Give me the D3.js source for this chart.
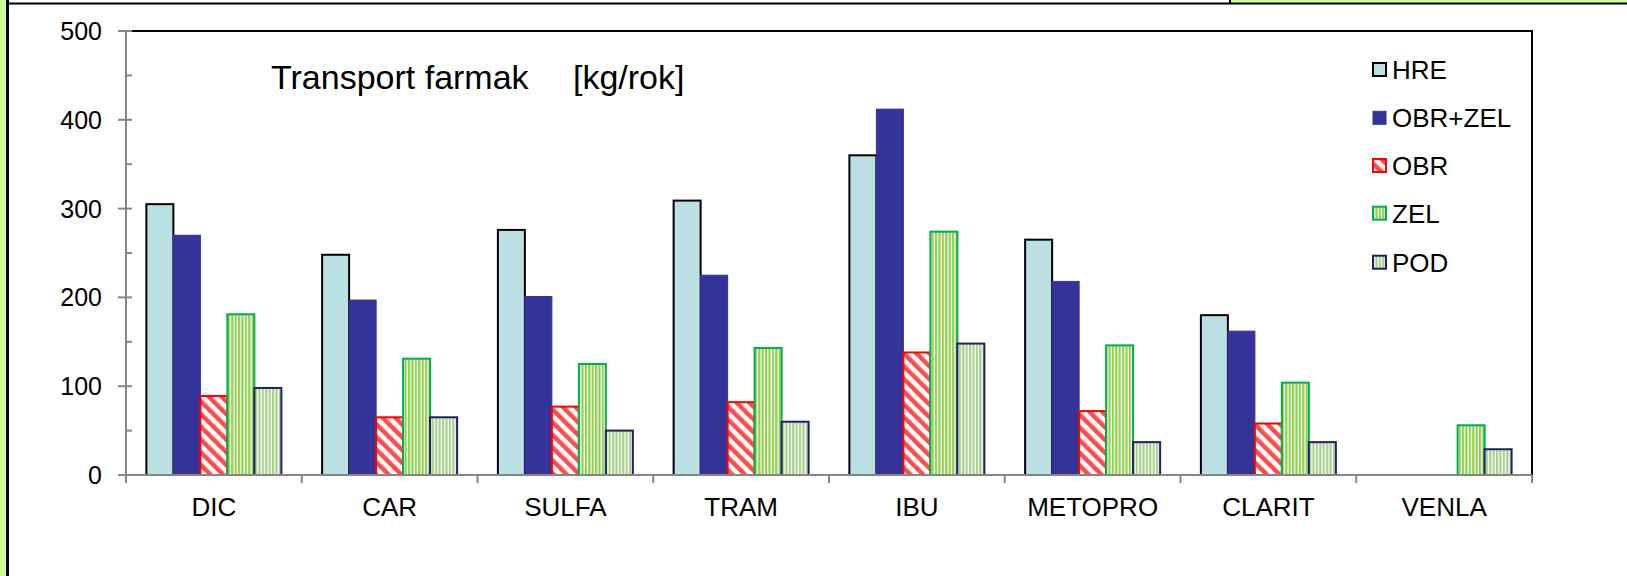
<!DOCTYPE html>
<html>
<head>
<meta charset="utf-8">
<script src="https://cdn.jsdelivr.net/npm/d3@7/dist/d3.min.js"></script>
<style>
  html, body { margin: 0; padding: 0; background: #ffffff; }
  svg { display: block; font-family: "Liberation Sans", Arial, sans-serif; }
</style>
</head>
<body>
<svg id="chart" width="1627" height="576"></svg>
<script>
// Pharmaceutical load per site, kg per year
const categories = ["DIC", "CAR", "SULFA", "TRAM", "IBU", "METOPRO", "CLARIT", "VENLA"];
const seriesNames = ["HRE", "OBR+ZEL", "OBR", "ZEL", "POD"];
const hre    = [305, 248, 276, 309, 360, 265, 180, null];
const obrZel = [270, 197, 201, 225, 412, 218, 162, null];
const obr    = [89, 65, 77, 82, 138, 72, 58, null];
const zel    = [181, 131, 125, 143, 274, 146, 104, 56];
const pod    = [98, 65, 50, 60, 148, 37, 37, 29];
const yTicks = [0, 100, 200, 300, 400, 500];
const yMinorTicks = [50, 150, 250, 350, 450];
const titleMain = "Transport farmak";
const titleUnit = "[kg/rok]";

const seriesValues = [hre, obrZel, obr, zel, pod];

const svg = d3.select("#chart");
const W = 1627, H = 576;

// ----- slide frame -----
svg.append("rect").attr("x", 0).attr("y", 0).attr("width", 7).attr("height", H).attr("fill", "#ccff99");
svg.append("rect").attr("x", 1231).attr("y", 0).attr("width", W - 1231).attr("height", 3).attr("fill", "#ccff99");
svg.append("line").attr("x1", 7.5).attr("x2", 7.5).attr("y1", 0).attr("y2", H).attr("stroke", "#000").attr("stroke-width", 3);
svg.append("line").attr("x1", 6).attr("x2", W).attr("y1", 3.5).attr("y2", 3.5).attr("stroke", "#000").attr("stroke-width", 2);
svg.append("line").attr("x1", 1230).attr("x2", 1230).attr("y1", 0).attr("y2", 4).attr("stroke", "#000").attr("stroke-width", 2);

// ----- fill patterns -----
const defs = svg.append("defs");

const hatch = defs.append("pattern").attr("id", "hatchRed")
  .attr("patternUnits", "userSpaceOnUse").attr("width", 9).attr("height", 9)
  .attr("patternTransform", "rotate(-45)");
hatch.append("rect").attr("width", 9).attr("height", 9).attr("fill", "#ffffff");
hatch.append("rect").attr("width", 4.5).attr("height", 9).attr("fill", "#ff4d4d");

const stripeGreen = defs.append("pattern").attr("id", "stripeGreen")
  .attr("patternUnits", "userSpaceOnUse").attr("width", 3.4).attr("height", 10);
stripeGreen.append("rect").attr("width", 3.4).attr("height", 10).attr("fill", "#ffffff");
stripeGreen.append("rect").attr("width", 2.2).attr("height", 10).attr("fill", "#92d050");

const stripePale = defs.append("pattern").attr("id", "stripePale")
  .attr("patternUnits", "userSpaceOnUse").attr("width", 3.4).attr("height", 10);
stripePale.append("rect").attr("width", 3.4).attr("height", 10).attr("fill", "#ffffff");
stripePale.append("rect").attr("width", 2.2).attr("height", 10).attr("fill", "#a9d18e");

const styles = [
  { fill: "#bbe0e3", stroke: "#000000", sw: 2 },
  { fill: "#333399", stroke: "#333399", sw: 1 },
  { fill: "url(#hatchRed)", stroke: "#ff0000", sw: 2 },
  { fill: "url(#stripeGreen)", stroke: "#00b050", sw: 2 },
  { fill: "url(#stripePale)", stroke: "#1f1f6b", sw: 2 }
];

// ----- scales -----
const plot = { left: 126, right: 1532, top: 31, bottom: 475 };
const x0 = d3.scaleBand().domain(categories).range([plot.left, plot.right]).padding(0);
const x1 = d3.scaleBand().domain(seriesNames).range([0, x0.bandwidth()])
  .paddingInner(0).paddingOuter(0.755);
const y = d3.scaleLinear().domain([0, 500]).range([plot.bottom, plot.top]);

// ----- plot frame -----
svg.append("rect")
  .attr("x", plot.left).attr("y", plot.top)
  .attr("width", plot.right - plot.left).attr("height", plot.bottom - plot.top)
  .attr("fill", "none").attr("stroke", "#000").attr("stroke-width", 2);

// ----- title -----
const title = svg.append("text").attr("x", 271).attr("y", 89)
  .attr("font-size", 34).attr("fill", "#000");
title.append("tspan").text(titleMain);
title.append("tspan").attr("x", 573).text(titleUnit);

// ----- bars -----
seriesNames.forEach((name, si) => {
  const st = styles[si];
  const rows = categories.map((c, ci) => ({ c, v: seriesValues[si][ci] }))
    .filter(d => d.v !== null && d.v > 0);
  svg.append("g").selectAll("rect").data(rows).join("rect")
    .attr("x", d => x0(d.c) + x1(name))
    .attr("y", d => y(d.v))
    .attr("width", x1.bandwidth())
    .attr("height", d => y(0) - y(d.v))
    .attr("fill", st.fill)
    .attr("stroke", st.stroke)
    .attr("stroke-width", st.sw);
});

// ----- axes -----
const axisColor = "#868686";
const yAxis = svg.append("g").attr("transform", `translate(${plot.left},0)`);
yAxis.append("line").attr("x1", 0).attr("x2", 0).attr("y1", plot.top).attr("y2", plot.bottom + 8)
  .attr("stroke", axisColor).attr("stroke-width", 2);
yAxis.selectAll("line.major").data(yTicks).join("line").attr("class", "major")
  .attr("x1", -8).attr("x2", 6).attr("y1", d => y(d)).attr("y2", d => y(d))
  .attr("stroke", axisColor).attr("stroke-width", 2);
yAxis.selectAll("line.minor").data(yMinorTicks).join("line").attr("class", "minor")
  .attr("x1", 0).attr("x2", 6).attr("y1", d => y(d)).attr("y2", d => y(d))
  .attr("stroke", axisColor).attr("stroke-width", 2);
yAxis.selectAll("text").data(yTicks).join("text")
  .attr("x", -24).attr("y", d => y(d)).attr("dy", "0.36em")
  .attr("text-anchor", "end").attr("font-size", 25).attr("fill", "#000")
  .text(d => d);

const xAxis = svg.append("g");
xAxis.append("line").attr("x1", plot.left - 8).attr("x2", plot.right).attr("y1", plot.bottom).attr("y2", plot.bottom)
  .attr("stroke", axisColor).attr("stroke-width", 2);
const boundaries = categories.map(c => x0(c)).concat([plot.right]);
xAxis.selectAll("line.tick").data(boundaries).join("line").attr("class", "tick")
  .attr("x1", d => d).attr("x2", d => d).attr("y1", plot.bottom).attr("y2", plot.bottom + 8)
  .attr("stroke", axisColor).attr("stroke-width", 2);
xAxis.selectAll("text").data(categories).join("text")
  .attr("x", d => x0(d) + x0.bandwidth() / 2).attr("y", 516)
  .attr("text-anchor", "middle").attr("font-size", 26).attr("fill", "#000")
  .text(d => d);

// ----- legend -----
const legend = svg.append("g").attr("transform", "translate(1372,0)");
const legendBase = [79, 127.3, 175, 222.7, 271.7];
seriesNames.forEach((name, i) => {
  const st = styles[i];
  legend.append("rect")
    .attr("x", 1).attr("y", legendBase[i] - 16).attr("width", 13).attr("height", 13)
    .attr("fill", st.fill).attr("stroke", st.stroke).attr("stroke-width", st.sw);
  legend.append("text")
    .attr("x", 20).attr("y", legendBase[i])
    .attr("font-size", 26).attr("fill", "#000").text(name);
});
</script>
</body>
</html>
